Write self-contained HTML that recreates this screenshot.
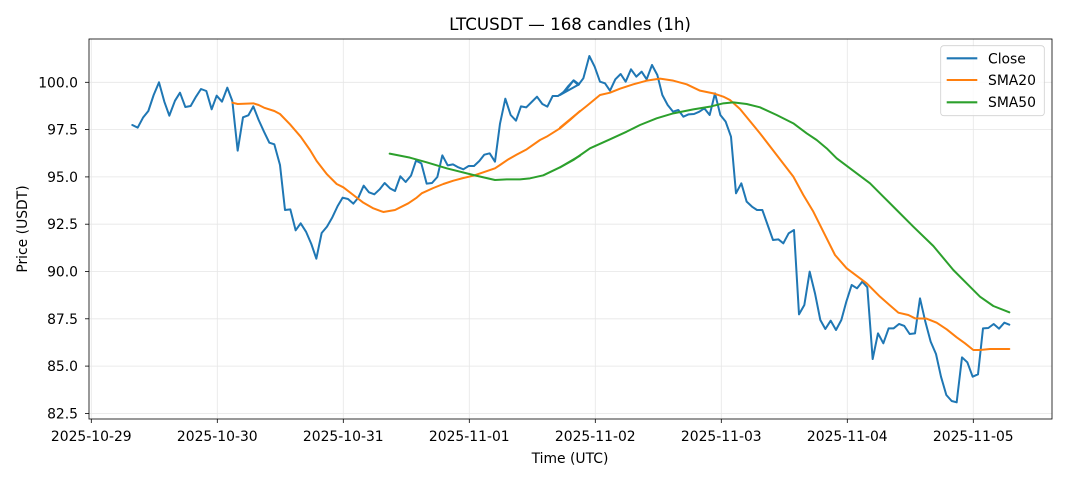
<!DOCTYPE html>
<html><head><meta charset="utf-8"><style>body{margin:0;background:#fff}svg{display:block;font-family:"DejaVu Sans","Liberation Sans",sans-serif}</style></head><body>
<svg width="1068" height="481" viewBox="0 0 1068 481" xmlns="http://www.w3.org/2000/svg">
<rect width="1068" height="481" fill="#fff"/>
<g stroke="#e6e6e6" stroke-width="0.8">
<line x1="91.3" y1="39" x2="91.3" y2="419"/><line x1="217.3" y1="39" x2="217.3" y2="419"/><line x1="343.3" y1="39" x2="343.3" y2="419"/><line x1="469.3" y1="39" x2="469.3" y2="419"/><line x1="595.3" y1="39" x2="595.3" y2="419"/><line x1="721.3" y1="39" x2="721.3" y2="419"/><line x1="847.3" y1="39" x2="847.3" y2="419"/><line x1="973.3" y1="39" x2="973.3" y2="419"/>
<line x1="89" y1="82.3" x2="1052" y2="82.3"/><line x1="89" y1="129.6" x2="1052" y2="129.6"/><line x1="89" y1="176.9" x2="1052" y2="176.9"/><line x1="89" y1="224.2" x2="1052" y2="224.2"/><line x1="89" y1="271.5" x2="1052" y2="271.5"/><line x1="89" y1="318.8" x2="1052" y2="318.8"/><line x1="89" y1="366.1" x2="1052" y2="366.1"/><line x1="89" y1="413.4" x2="1052" y2="413.4"/>
</g>
<g fill="none" stroke-linejoin="round" stroke-linecap="round">
<g transform="translate(80,30) scale(0.33333)" stroke-width="6">
<polyline stroke="#1f77b4" points="157,285 173,293 189,263 205,243 221,195 237,157 253,215 268,257 285,212 300,188 316,231 332,228 348,200 363,177 379,183 395,238 410,197 426,215 442,173 457,213 473,362 489,262 505,256 520,229 536,270 552,305 568,338 583,343 600,405 615,540 631,538 647,601 662,580 678,605 694,642 709,686 725,609 741,590 757,562 773,528 788,503 804,507 820,521 835,503 851,467 867,487 883,493 899,478 914,459 930,475 945,483 961,439 977,456 993,437 1008,392 1024,400 1040,461 1056,459 1072,441 1087,376 1103,406 1119,403 1135,412 1150,418 1166,408 1182,408 1198,393 1213,374 1229,370 1245,395 1260,281 1276,206 1292,255 1308,272 1323,229 1339,232 1355,216 1371,200 1387,222 1402,230 1418,198 1434,198 1450,187 1465,168 1481,151 1497,163 1497,163"/>
<polyline stroke="#ff7f0e" points="457,218 473,222 520,220 536,225 552,233 583,243 600,252 630,283 662,320 690,360 710,393 741,433 770,462 790,472 820,495 850,518 880,535 910,546 945,540 985,520 1010,503 1025,490 1060,474 1090,462 1120,452 1150,444 1180,437 1210,427 1245,415 1260,405 1285,388 1310,374 1340,358 1380,330 1400,320 1440,295 1470,270 1500,243"/>
<polyline stroke="#2ca02c" points="929,371 990,383 1040,397 1100,415 1180,435 1245,450 1280,448 1320,448 1350,445 1390,436 1440,412 1500,377"/>
</g>
<g transform="translate(560,30) scale(0.33333)" stroke-width="6">
<polyline stroke="#1f77b4" points="57,163 0,195 20,178 40,152 55,165 70,145 88,78 104,110 120,155 135,160 150,182 166,148 182,132 197,155 213,118 229,140 245,125 260,148 276,105 292,135 307,195 323,225 339,245 355,240 370,260 386,253 402,252 418,245 433,235 449,255 465,190 481,255 497,275 513,320 528,490 544,460 560,515 576,530 591,540 607,540 623,585 639,630 655,628 670,640 686,610 702,600 717,853 733,825 749,725 765,790 781,870 796,897 812,872 828,900 844,870 859,815 875,765 891,775 907,755 922,772 938,987 954,910 970,940 986,895 1001,895 1017,882 1033,888 1049,912 1065,910 1080,805 1096,875 1112,935 1128,972 1143,1040 1159,1095 1175,1113 1190,1117 1206,982 1222,997 1238,1040 1254,1033 1269,895 1285,894 1301,882 1317,896 1333,878 1348,884"/>
<polyline stroke="#ff7f0e" points="0,293 40,260 80,228 120,195 150,188 180,176 220,163 260,152 300,146 340,152 380,163 420,182 460,190 490,200 510,210 540,237 600,310 650,375 700,440 730,495 760,545 790,605 825,675 860,715 900,745 920,760 960,800 1015,848 1045,855 1065,865 1100,866 1130,878 1160,898 1190,922 1215,940 1240,960 1260,960 1290,957 1348,957"/>
<polyline stroke="#2ca02c" points="0,412 40,390 90,355 150,328 200,305 240,285 290,265 340,250 400,238 450,230 490,220 520,217 560,222 600,232 650,255 700,280 740,310 770,330 800,355 830,385 870,415 930,460 970,500 1010,540 1060,590 1120,648 1180,720 1230,770 1260,800 1300,828 1348,847"/>
</g>
</g>
<rect x="89" y="39" width="963" height="380" fill="none" stroke="#000" stroke-width="0.8"/>
<g stroke="#000" stroke-width="0.8">
<line x1="91.3" y1="419" x2="91.3" y2="423"/><line x1="217.3" y1="419" x2="217.3" y2="423"/><line x1="343.3" y1="419" x2="343.3" y2="423"/><line x1="469.3" y1="419" x2="469.3" y2="423"/><line x1="595.3" y1="419" x2="595.3" y2="423"/><line x1="721.3" y1="419" x2="721.3" y2="423"/><line x1="847.3" y1="419" x2="847.3" y2="423"/><line x1="973.3" y1="419" x2="973.3" y2="423"/>
<line x1="85" y1="82.3" x2="89" y2="82.3"/><line x1="85" y1="129.6" x2="89" y2="129.6"/><line x1="85" y1="176.9" x2="89" y2="176.9"/><line x1="85" y1="224.2" x2="89" y2="224.2"/><line x1="85" y1="271.5" x2="89" y2="271.5"/><line x1="85" y1="318.8" x2="89" y2="318.8"/><line x1="85" y1="366.1" x2="89" y2="366.1"/><line x1="85" y1="413.4" x2="89" y2="413.4"/>
</g>
<g font-size="13.9" fill="#000" text-anchor="middle">
<text x="91.3" y="441">2025-10-29</text><text x="217.3" y="441">2025-10-30</text><text x="343.3" y="441">2025-10-31</text><text x="469.3" y="441">2025-11-01</text><text x="595.3" y="441">2025-11-02</text><text x="721.3" y="441">2025-11-03</text><text x="847.3" y="441">2025-11-04</text><text x="973.3" y="441">2025-11-05</text>
</g>
<g font-size="13.9" fill="#000" text-anchor="end">
<text x="78" y="87.3">100.0</text><text x="78" y="134.6">97.5</text><text x="78" y="181.9">95.0</text><text x="78" y="229.2">92.5</text><text x="78" y="276.5">90.0</text><text x="78" y="323.8">87.5</text><text x="78" y="371.1">85.0</text><text x="78" y="418.4">82.5</text>
</g>
<text x="570" y="463" font-size="13.9" text-anchor="middle">Time (UTC)</text>
<text transform="translate(27,229) rotate(-90)" font-size="13.9" text-anchor="middle">Price (USDT)</text>
<text x="570" y="30" font-size="16.7" text-anchor="middle">LTCUSDT — 168 candles (1h)</text>
<rect x="940.7" y="45.7" width="103.6" height="70" rx="3" fill="#fff" fill-opacity="0.8" stroke="#d0d0d0" stroke-width="0.8"/>
<g stroke-width="2.1"><line x1="946.7" y1="58.3" x2="977.3" y2="58.3" stroke="#1f77b4"/><line x1="946.7" y1="80" x2="977.3" y2="80" stroke="#ff7f0e"/><line x1="946.7" y1="102.3" x2="977.3" y2="102.3" stroke="#2ca02c"/></g>
<g font-size="13.9" fill="#000"><text x="988" y="63.3">Close</text><text x="988" y="85">SMA20</text><text x="988" y="107">SMA50</text></g>
</svg>
</body></html>
